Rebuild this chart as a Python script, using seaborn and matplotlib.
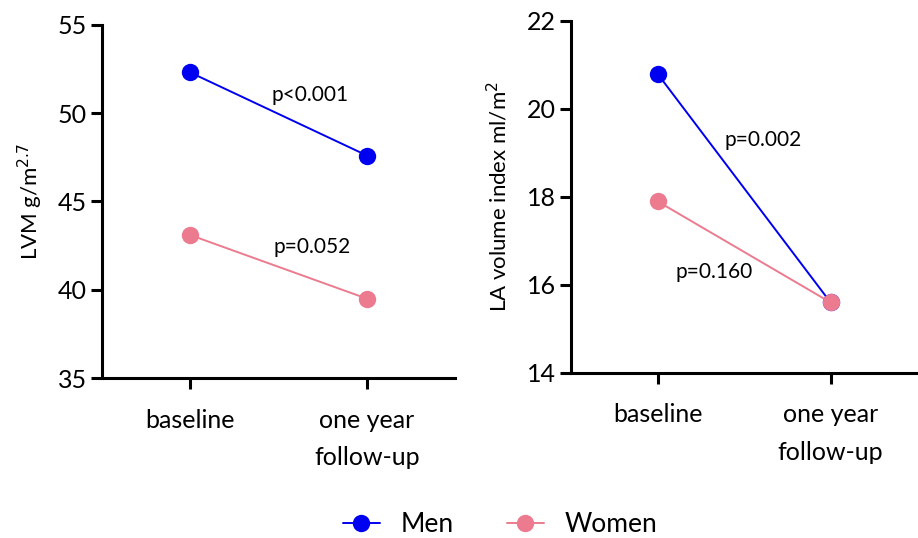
import pandas as pd
import numpy as np
import matplotlib
matplotlib.use('Agg')
import matplotlib.pyplot as plt
import seaborn as sns

sns.set_style('ticks')
plt.rcParams['font.family'] = ['Lato', 'DejaVu Sans']
plt.rcParams['text.color'] = 'black'
plt.rcParams['axes.labelcolor'] = 'black'
plt.rcParams['xtick.color'] = 'black'
plt.rcParams['ytick.color'] = 'black'
plt.rcParams['axes.edgecolor'] = 'black'

# data
timepoints = ['baseline', 'one year\nfollow-up']
groups = ['Men', 'Women']
lvm_men = [52.3, 47.6]
lvm_women = [43.1, 39.5]
la_men = [20.8, 15.6]
la_women = [17.9, 15.6]
lvm_p = ['p<0.001', 'p=0.052']
la_p = ['p=0.002', 'p=0.160']

colors = {'Men': '#0000F0', 'Women': '#EC7B8F'}


def long_df(men, women):
    rows = []
    for g, vals in zip(groups, [men, women]):
        for i, v in enumerate(vals):
            rows.append({'pos': i, 'group': g, 'value': v})
    return pd.DataFrame(rows)


fig = plt.figure(figsize=(9.18, 5.38), dpi=100)
ax1 = fig.add_axes([0.111, 0.297, 0.385, 0.657])
ax2 = fig.add_axes([0.622, 0.307, 0.377, 0.654])

panels = [
    (ax1, long_df(lvm_men, lvm_women), (35, 55), [35, 40, 45, 50, 55], 'LVM g/m$^{2.7}$'),
    (ax2, long_df(la_men, la_women), (14, 22), [14, 16, 18, 20, 22], 'LA volume index ml/m$^{2}$'),
]

for ax, df, ylim, yticks, ylabel in panels:
    sns.lineplot(data=df, x='pos', y='value', hue='group', palette=colors,
                 marker='o', markersize=12.5, markeredgewidth=0, linewidth=1.4,
                 ax=ax, legend=False)
    ax.set_xlim(-0.5, 1.5)
    ax.set_ylim(*ylim)
    ax.set_yticks(yticks)
    ax.set_xticks(range(len(timepoints)))
    ax.set_xticklabels(timepoints, fontsize=18, linespacing=1.75)
    ax.tick_params(axis='y', labelsize=18, width=2.2, length=8, pad=3)
    ax.tick_params(axis='x', width=2.2, length=8, pad=14)
    ax.set_xlabel('')
    ax.set_ylabel(ylabel, fontsize=16)
    for s in ['left', 'bottom']:
        ax.spines[s].set_linewidth(2.2)
    ax.spines['left'].set_zorder(5)
    sns.despine(ax=ax)

ax1.text(0.68, 51.0, lvm_p[0], fontsize=15, ha='center', va='center')
ax1.text(0.69, 42.4, lvm_p[1], fontsize=15, ha='center', va='center')
ax2.text(0.61, 19.3, la_p[0], fontsize=15, ha='center', va='center')
ax2.text(0.33, 16.3, la_p[1], fontsize=15, ha='center', va='center')

ax1.yaxis.set_label_coords(-0.16, 0.5)
ax2.yaxis.set_label_coords(-0.175, 0.5)

handles = [plt.Line2D([], [], color=colors[g], marker='o', markersize=12.5,
                      markeredgewidth=0, linewidth=1.4) for g in groups]
fig.legend(handles, groups, loc='center', bbox_to_anchor=(0.545, 0.025), ncol=2,
           frameon=False, fontsize=19, handlelength=1.4, handletextpad=0.8,
           columnspacing=2.0)

fig.savefig('out.png', dpi=100)
